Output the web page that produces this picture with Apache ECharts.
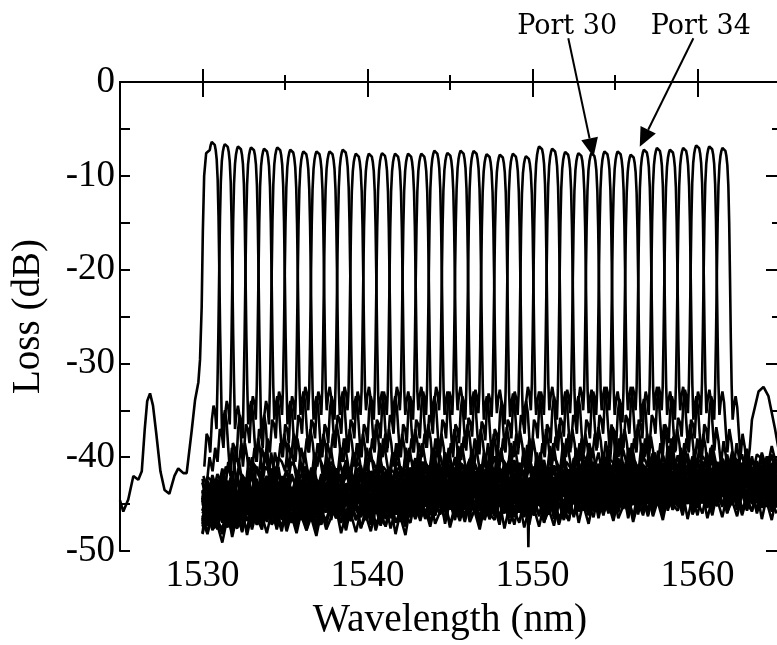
<!DOCTYPE html>
<html>
<head>
<meta charset="utf-8">
<title>AWG spectrum</title>
<script src="https://cdn.jsdelivr.net/npm/echarts@6/dist/echarts.min.js"></script>
<style>
  html, body { margin: 0; padding: 0; background: #fff; }
  #main { width: 777px; height: 645px; }
</style>
</head>
<body>
<div id="main"></div>
<script type="text/javascript">
// port centre wavelengths (nm) and peak loss (dB)
var centers = [1530.62, 1531.41, 1532.21, 1533.00, 1533.79, 1534.59, 1535.38, 1536.17, 1536.97, 1537.76,
               1538.56, 1539.35, 1540.14, 1540.94, 1541.73, 1542.52, 1543.32, 1544.11, 1544.90, 1545.70,
               1546.49, 1547.28, 1548.08, 1548.87, 1549.66, 1550.46, 1551.25, 1552.04, 1552.84, 1553.63,
               1554.42, 1555.22, 1556.01, 1556.81, 1557.60, 1558.39, 1559.19, 1559.98, 1560.77, 1561.57];
var peaks = [-6.25, -6.47, -6.72, -6.82, -6.96, -6.82, -7.07, -7.25, -7.25, -7.25,
             -7.07, -7.5, -7.5, -7.43, -7.5, -7.5, -7.5, -7.18, -7.4, -7.18,
             -7.2, -7.55, -7.6, -7.5, -7.75, -6.72, -6.96, -7.3, -7.43, -7.43,
             -7.25, -7.25, -7.6, -7.07, -6.89, -7.07, -6.89, -6.61, -6.72, -6.89];
// side lobe top and noise floor of each trace (dB)
var sideLevel = [-35, -34.5, -34, -35.5, -33.5, -34, -33, -33.5, -32.5, -33,
                 -33.5, -32.5, -33, -33.5, -33, -32.5, -33.5, -33, -32.5, -33,
                 -33.5, -32.8, -33.2, -34, -33, -32.5, -33, -33.5, -32.8, -32.5,
                 -33, -32.5, -33.8, -32.5, -33, -32.5, -33.5, -32.8, -33, -33.5];
var floorLevel = [-44.5, -45.5, -44, -46, -45, -44.5, -46, -45, -43.5, -45.5,
                  -44, -45, -43.5, -44.5, -45, -43, -44, -45.5, -43.5, -44,
                  -43, -44.5, -42.5, -44, -45, -42.5, -43.5, -44, -42, -43.5,
                  -42.5, -44, -43, -41.5, -43, -44, -42, -43.5, -42.5, -41.5];

// passband: offset from centre (nm) and drop from the peak (dB)
var coreOffset = [0, 0.06, 0.12, 0.18, 0.24, 0.30, 0.35, 0.40, 0.45, 0.50];
var coreDrop = [0, -0.15, -0.45, -1.0, -2.0, -4.2, -8, -14, -20.5, -25.5];
// skirts: offset from centre (nm) and drop from the side lobe top (dB), each side
var skirtOffset = [0.56, 0.64, 0.74, 0.84, 0.94, 1.04, 1.16, 1.30, 1.44, 1.60, 1.78, 1.96, 2.16, 2.38, 2.60, 2.85];
var skirtLeft = [-2.5, -0.8, 0, -1.5, -5, -3.5, -3, -6.5, -5, -7.5, -6, -9, -8, -7.5, -10, -10.5];
var skirtRight = [-2.5, -1, 0, -1.2, -4, -6.5, -4, -5.5, -8, -5.5, -7.5, -9.5, -7, -9, -8.5, -10.5];

// floor ripple (dB) read along the bottom band, sampled every floorStep nm
var ripple = [0.9, -0.4, 1.6, -1.1, 0.2, 1.2, -1.5, 0.6, -0.2, 1.8, -0.9, 0.4, -1.3, 1.1, 0.0, -0.7, 1.4, -1.6, 0.8,
              0.3, -1.0, 1.7, -0.5, 0.5, -1.4, 1.0, -0.1, 1.3, -1.2, 0.7, -0.8, 1.5, -0.3, 0.2, -1.7, 0.9, -0.6];
var floorStep = 0.3;
var floorTrend = [-1.4, -1.2, -0.6, 0, 0, 0.6, 1.0, 1.0];   // per 5 nm from 1530 nm

// port 1 trace below 1530 nm
var leadX = [1525.0, 1525.2, 1525.5, 1525.81, 1526.11, 1526.32, 1526.5, 1526.65, 1526.82, 1527.0, 1527.2, 1527.45,
             1527.7, 1527.99, 1528.3, 1528.53, 1528.84, 1529.04, 1529.35, 1529.55, 1529.75, 1529.85, 1529.95,
             1530.02, 1530.1, 1530.22];
var leadY = [-44.6, -45.8, -44.5, -42.0, -42.4, -41.5, -37, -34, -33.2, -34.5, -37.5, -41.5,
             -43.5, -43.9, -42, -41.2, -41.7, -41.7, -37.1, -33.9, -32.0, -29.6, -24,
             -16, -10, -7.6];
// last port tail and the dip near 1550 nm
var tailX = [1563.3, 1563.7, 1564.0, 1564.3, 1564.7, 1565.0];
var tailY = [-36, -33, -32.5, -33.5, -37, -40];
var spikeX = [1549.7, 1549.75, 1549.8];
var spikeY = [-44, -49.6, -44.5];

var xMajor = [1530, 1540, 1550, 1560];
var xMinor = [1535, 1545, 1555];

var portNames = ['Port 30', 'Port 34'];
var portLabelX = [1552.1, 1560.2];
var portLabelY = [5.9, 5.9];
var arrowFromX = [1552.17, 1559.75];
var arrowFromY = [4.66, 4.66];
var arrowToX = [1553.7, 1556.5];
var arrowToY = [-8.0, -6.9];

// hand-read pieces replace the generic shape inside [from, to]
var extras = {
    0: { x: leadX, y: leadY, from: 1520, to: 1530.4 },
    10: { x: spikeX, y: spikeY, from: 1549.6, to: 1549.9 },
    39: { x: tailX, y: tailY, from: 1563.2, to: 1570 }
};

function buildTrace(i) {
    var c = centers[i];
    var pts = [];
    var j;
    for (j = 0; j < coreOffset.length; j++) {
        pts.push([c - coreOffset[j], peaks[i] + coreDrop[j]]);
        if (j > 0) pts.push([c + coreOffset[j], peaks[i] + coreDrop[j]]);
    }
    for (j = 0; j < skirtOffset.length; j++) {
        pts.push([c - skirtOffset[j], sideLevel[i] + skirtLeft[j]]);
        pts.push([c + skirtOffset[j], sideLevel[i] + skirtRight[j]]);
    }
    var reach = skirtOffset[skirtOffset.length - 1] + 0.12;
    for (j = 0; j * floorStep <= 35.01; j++) {
        var x = 1530 + j * floorStep;
        if (Math.abs(x - c) < reach) continue;
        var t = floorTrend[Math.round((x - 1530) / 5)];
        pts.push([x, floorLevel[i] + t + ripple[(j + 5 * i) % ripple.length]]);
    }
    pts = pts.filter(function (p) { return p[0] >= 1530; });
    var ex = extras[i];
    if (ex) {
        pts = pts.filter(function (p) { return p[0] < ex.from || p[0] > ex.to; });
        for (j = 0; j < ex.x.length; j++) pts.push([ex.x[j], ex.y[j]]);
    }
    pts.sort(function (a, b) { return a[0] - b[0]; });
    return pts;
}

var series = [];
for (var i = 0; i < centers.length; i++) {
    series.push({
        type: 'line',
        data: buildTrace(i),
        showSymbol: false,
        symbol: 'none',
        silent: true,
        lineStyle: { color: '#000', width: 2.6 }
    });
}

var font = 'Liberation Serif';
var tickLine = { color: '#000', width: 2 };

var myChart = echarts.init(document.getElementById('main'));
var option = {
    animation: false,
    backgroundColor: '#fff',
    grid: { left: 120, right: -3, top: 82, bottom: 94, outerBoundsMode: 'none' },
    xAxis: [
        {
            type: 'value', min: 1525, max: 1565, position: 'bottom',
            axisLine: { show: true, lineStyle: tickLine },
            axisTick: { show: true, inside: true, length: 13, customValues: xMajor, lineStyle: tickLine },
            axisLabel: { customValues: xMajor, fontFamily: font, fontSize: 37, color: '#000', margin: 7,
                         formatter: function (v) { return String(v); } },
            splitLine: { show: false },
            name: 'Wavelength (nm)', nameLocation: 'middle', nameGap: 50,
            nameTextStyle: { fontFamily: font, fontSize: 39.5, color: '#000' }
        },
        {
            type: 'value', min: 1525, max: 1565, position: 'bottom',
            axisLine: { show: false },
            axisTick: { show: true, inside: true, length: 7, customValues: xMinor, lineStyle: tickLine },
            axisLabel: { show: false },
            splitLine: { show: false }
        },
        {
            type: 'value', min: 1525, max: 1565, position: 'top',
            axisLine: { show: true, lineStyle: tickLine },
            axisTick: { show: true, inside: true, length: 15, customValues: xMajor, lineStyle: tickLine },
            axisLabel: { show: false },
            splitLine: { show: false }
        },
        {
            type: 'value', min: 1525, max: 1565, position: 'top',
            axisLine: { show: false },
            axisTick: { show: true, inside: true, length: 8, customValues: xMinor, lineStyle: tickLine },
            axisLabel: { show: false },
            splitLine: { show: false }
        }
    ],
    yAxis: [
        {
            type: 'value', min: -50, max: 0, interval: 10, position: 'left',
            axisLine: { show: true, lineStyle: tickLine },
            axisTick: { show: true, inside: true, length: 10, lineStyle: tickLine },
            minorTick: { show: true, splitNumber: 2, length: 10, lineStyle: tickLine },
            axisLabel: { fontFamily: font, fontSize: 37, color: '#000', margin: 5 },
            splitLine: { show: false },
            name: 'Loss (dB)', nameLocation: 'middle', nameGap: 72,
            nameTextStyle: { fontFamily: font, fontSize: 39, color: '#000' }
        },
        {
            type: 'value', min: -50, max: 0, interval: 10, position: 'right',
            axisLine: { show: true, lineStyle: tickLine },
            axisTick: { show: true, inside: true, length: 14, lineStyle: tickLine },
            minorTick: { show: true, splitNumber: 2, length: 8, lineStyle: tickLine },
            axisLabel: { show: false },
            splitLine: { show: false }
        }
    ],
    series: series
};
myChart.setOption(option);

// port labels and arrows, placed through the chart's own scales
var graphics = [];
for (var k = 0; k < portNames.length; k++) {
    var lp = myChart.convertToPixel({ xAxisIndex: 0, yAxisIndex: 0 }, [portLabelX[k], portLabelY[k]]);
    var a = myChart.convertToPixel({ xAxisIndex: 0, yAxisIndex: 0 }, [arrowFromX[k], arrowFromY[k]]);
    var b = myChart.convertToPixel({ xAxisIndex: 0, yAxisIndex: 0 }, [arrowToX[k], arrowToY[k]]);
    var dx = b[0] - a[0], dy = b[1] - a[1];
    var len = Math.sqrt(dx * dx + dy * dy);
    var ux = dx / len, uy = dy / len;
    var headL = 19, headW = 17;
    var bx = b[0] - ux * headL, by = b[1] - uy * headL;
    graphics.push({
        type: 'text', silent: true, z: 10,
        style: { text: portNames[k], x: lp[0], y: lp[1], align: 'center', verticalAlign: 'middle',
                 font: '27px "DejaVu Serif"', fill: '#000' }
    });
    graphics.push({
        type: 'line', silent: true, z: 10,
        shape: { x1: a[0], y1: a[1], x2: bx, y2: by },
        style: { stroke: '#000', lineWidth: 2 }
    });
    graphics.push({
        type: 'polygon', silent: true, z: 10,
        shape: { points: [[b[0], b[1]], [bx - uy * headW / 2, by + ux * headW / 2], [bx + uy * headW / 2, by - ux * headW / 2]] },
        style: { fill: '#000' }
    });
}
myChart.setOption({ graphic: graphics });
</script>
</body>
</html>
